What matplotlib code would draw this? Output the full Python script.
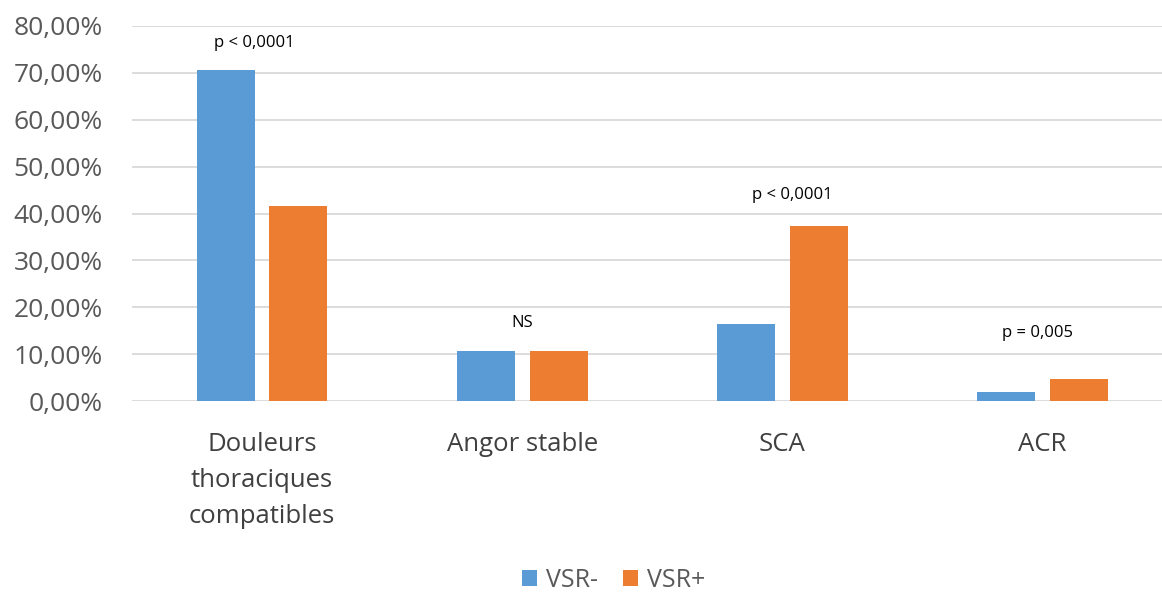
import matplotlib.pyplot as plt
import numpy as np
from matplotlib.ticker import FuncFormatter

# --- data ---
categories = ["Douleurs\nthoraciques\ncompatibles", "Angor stable", "SCA", "ACR"]
vsr_minus = [70.6, 10.6, 16.5, 1.9]
vsr_plus = [41.7, 10.6, 37.3, 4.6]
p_labels = ["p < 0,0001", "NS", "p < 0,0001", "p = 0,005"]
p_heights = [76.3, 16.6, 43.9, 14.5]
p_shift = [-0.03, 0.0, 0.04, -0.02]

plt.rcParams['font.family'] = ['Open Sans', 'DejaVu Sans']

fig = plt.figure(figsize=(11.62, 5.92), dpi=100)
ax = fig.add_axes([0.1136, 0.3226, 0.8864, 0.6335])

x = np.arange(len(categories))
w = 0.223
off = 0.14
ax.bar(x - off, vsr_minus, w, color='#5B9BD5', label='VSR-', zorder=3)
ax.bar(x + off, vsr_plus, w, color='#ED7D31', label='VSR+', zorder=3)

# p-value annotations
for i, (txt, h) in enumerate(zip(p_labels, p_heights)):
    ax.text(i + p_shift[i], h, txt, ha='center', va='center', fontsize=12, color='#000000')

ax.set_ylim(0, 80)
ax.set_xlim(-0.5, 3.46)
ax.set_yticks(np.arange(0, 81, 10))
ax.yaxis.set_major_formatter(FuncFormatter(lambda v, p: f"{v:.2f}%".replace('.', ',')))
ax.grid(axis='y', color='#D9D9D9', linewidth=1.3, zorder=0)
ax.set_xticks(x)
ax.set_xticklabels(categories, fontsize=18.5, color='#404040', linespacing=1.6)
ax.tick_params(axis='y', labelsize=19, labelcolor='#595959', length=0, pad=21)
ax.tick_params(axis='x', length=0, pad=22)
for s in ax.spines.values():
    s.set_visible(False)

fig.legend(loc='center', bbox_to_anchor=(0.528, 0.02),
           ncol=2, frameon=False, fontsize=18, labelcolor='#595959',
           handlelength=0.6, handleheight=0.6, handletextpad=0.35, columnspacing=1.0)

fig.savefig('out.png', dpi=100)
